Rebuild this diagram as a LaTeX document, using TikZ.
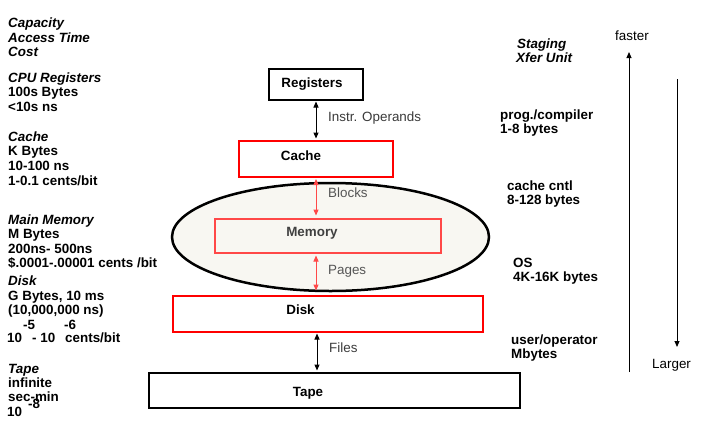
\documentclass[tikz,border=0pt]{standalone}
\usepackage{fontspec}
\setmainfont{Liberation Sans}
\usetikzlibrary{arrows.meta,shapes.geometric}
\definecolor{boxred}{HTML}{FF0000}
\definecolor{memred}{HTML}{FF4848}
\definecolor{ellfill}{HTML}{F8F7F2}
\definecolor{labgray}{HTML}{3A3A3A}
\definecolor{lightgray}{HTML}{555555}
\definecolor{memtext}{HTML}{404040}
\begin{document}
\begin{tikzpicture}[x=1pt,y=-1pt,
  txt/.style={anchor=base west, inner sep=0, font=\fontsize{13.4}{15}\selectfont\bfseries},
  txti/.style={anchor=base west, inner sep=0, font=\fontsize{13.4}{15}\selectfont\bfseries\itshape},
  boxk/.style={draw=black, line width=2pt, fill=white, inner sep=0},
  boxr/.style={draw=boxred, line width=2pt, fill=white, inner sep=0},
  boxt/.style={anchor=base, inner sep=0, font=\fontsize{13.4}{15}\selectfont\bfseries},
  lab/.style={anchor=base west, inner sep=0, font=\fontsize{13.4}{15}\selectfont, text=labgray},
  dbl/.style={{Triangle[length=6pt,width=5pt]}-{Triangle[length=6pt,width=5pt]}, line width=1pt},
  sgl/.style={-{Triangle[length=6pt,width=5pt]}, line width=1pt}]
\useasboundingbox (0,0) rectangle (701,429);

% shapes
\node[draw=black, line width=2.5pt, fill=ellfill, ellipse, minimum width=317, minimum height=108, inner sep=0] (ell) at (330.5,237) {};
\node[draw=memred, line width=2pt, inner sep=0, minimum width=226, minimum height=34] (mem) at (327.5,235.5) {};
\node[boxk, minimum width=94, minimum height=31] (reg) at (315.5,84) {};
\node[boxr, minimum width=154, minimum height=36] (cache) at (315.5,158.5) {};
\node[boxr, minimum width=310, minimum height=36] (disk) at (327.5,313.5) {};
\node[boxk, minimum width=371, minimum height=35] (tape) at (334,390) {};

% box texts
\node[boxt] (tReg) at (312,87) {Registers};
\node[boxt] (tCache) at (301,160) {Cache};
\node[boxt, text=memtext] (tMem) at (312,236.5) {Memory};
\node[boxt] (tDisk) at (300.5,314) {Disk};
\node[boxt] (tTape) at (308,396.5) {Tape};

% connectors
\coordinate (ax) at (316,0);
\coordinate (fx) at (317,0);
\draw[dbl, shorten <=1pt, shorten >=1pt] (reg.south -| ax) -- (cache.north -| ax);
\draw[dbl, draw=memred, fill=memred, shorten <=1.5pt, shorten >=2pt] (cache.south -| ax) -- (mem.north -| ax);
\draw[dbl, draw=memred, fill=memred, shorten <=2pt, shorten >=4pt] (mem.south -| ax) -- (disk.north -| ax);
\draw[dbl, shorten <=1pt, shorten >=1pt] (disk.south -| fx) -- (tape.north -| fx);

\node[lab] (lInstr) at (328,121.5) {Instr. Operands};
\node[lab, text=lightgray] (lBlocks) at (328,197) {Blocks};
\node[lab, text=lightgray] (lPages) at (328,274.5) {Pages};
\node[lab] (lFiles) at (329,352.5) {Files};

% left column
\node[txti] (l1) at (8,27.5) {Capacity};
\node[txti] (l2) at (8,42) {Access Time};
\node[txti] (l3) at (8,56.5) {Cost};
\node[txti] (l4) at (8,82.5) {CPU Registers};
\node[txt] (l5) at (8,96.5) {100s Bytes};
\node[txt] (l6) at (8,111.5) {<10s ns};
\node[txti] (l7) at (8,141.5) {Cache};
\node[txt] (l8) at (8,155.5) {K Bytes};
\node[txt] (l9) at (8,170.5) {10-100 ns};
\node[txt] (l10) at (8,185) {1-0.1 cents/bit};
\node[txti] (l11) at (8,224.5) {Main Memory};
\node[txt] (l12) at (8,238.5) {M Bytes};
\node[txt] (l13) at (8,253.5) {200ns- 500ns};
\node[txt] (l14) at (8,267.5) {\$.0001-.00001 cents /bit};
\node[txti] (l15) at (8,285.5) {Disk};
\node[txt] (l16) at (8,300.5) {G Bytes, 10 ms};
\node[txt] (l17) at (8,314.5) {(10,000,000 ns)};
\node[txt] (l18) at (23,329.5) {-5};
\node[txt] (l19) at (64,329.5) {-6};
\node[txt] (l20) at (7,342.5) {10};
\node[txt] (l21) at (32,342.5) {- 10};
\node[txt] (l22) at (65,342.5) {cents/bit};
\node[txti] (l23) at (8,373.5) {Tape};
\node[txt] (l24) at (8,387.5) {infinite};
\node[txt] (l25) at (8,401.5) {sec-min};
\node[txt] (l26) at (7,416.5) {10};
\node[txt] (l27) at (28,408) {-8};

% right column
\node[txti] (r1) at (517,48) {Staging};
\node[txti] (r2) at (516,62) {Xfer Unit};
\node[txt] (r3) at (500,119.5) {prog./compiler};
\node[txt] (r4) at (500,133) {1-8 bytes};
\node[txt] (r5) at (507,190) {cache cntl};
\node[txt] (r6) at (507,204.5) {8-128 bytes};
\node[txt] (r7) at (513,267.5) {OS};
\node[txt] (r8) at (513,281) {4K-16K bytes};
\node[txt] (r9) at (511,344.5) {user/operator};
\node[txt] (r10) at (511,358) {Mbytes};

% speed / size arrows
\node[lab, text=black] (faster) at (615,40) {faster};
\node[lab, text=black] (larger) at (652,368) {Larger};
\coordinate (upb) at (629,372);
\coordinate (upt) at (629,52);
\coordinate (dnt) at (677,79);
\coordinate (dnb) at (677,347);
\draw[sgl] (upb) -- (upt);
\draw[sgl] (dnt) -- (dnb);
\end{tikzpicture}
\end{document}
